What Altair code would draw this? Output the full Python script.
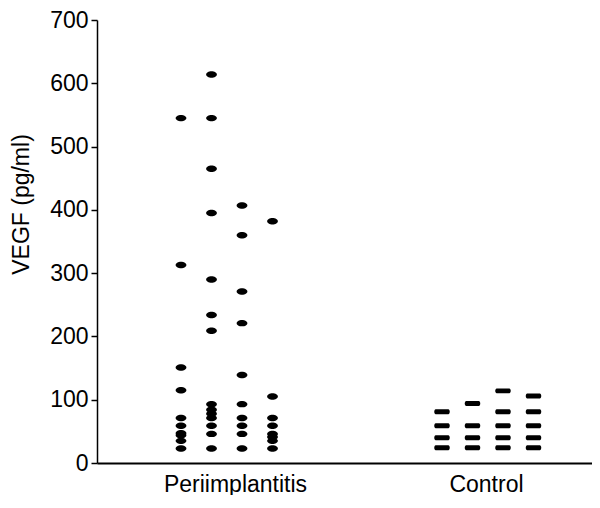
import altair as alt
import pandas as pd

# ---- data ----
groups = ["Periimplantitis", "Control"]

# VEGF values (pg/ml), one list per scatter column
peri_columns = [
    [545, 313, 151, 115, 71, 59, 47, 44, 35, 23],
    [614, 545, 465, 395, 290, 234, 209, 93, 84, 78, 71, 59, 46, 23],
    [407, 360, 271, 221, 139, 93, 71, 59, 46, 23],
    [382, 105, 71, 59, 46, 41, 35, 23],
]
control_columns = [
    [81, 59, 40, 24],
    [94, 59, 40, 24],
    [114, 81, 59, 40, 24],
    [106, 81, 59, 40, 24],
]
y_ticks = [0, 100, 200, 300, 400, 500, 600, 700]

rows = []
for gi, cols in enumerate([peri_columns, control_columns]):
    for ci, col in enumerate(cols):
        for v in col:
            rows.append({"group": groups[gi], "gi": gi, "col": ci, "vegf": v})
df = pd.DataFrame(rows)

FONT = "Liberation Sans"
ellipse = "M-1,0 A1,0.6 0 1,1 1,0 A1,0.6 0 1,1 -1,0 Z"
dash = ("M-0.82,-0.32 L0.82,-0.32 A0.18,0.32 0 0,1 0.82,0.32 "
        "L-0.82,0.32 A0.18,0.32 0 0,1 -0.82,-0.32 Z")

chart = (
    alt.Chart(df)
    .transform_calculate(xpos="(datum.gi == 0 ? 84 : 345) + datum.col * 30.5")
    .mark_point(filled=True, opacity=1, strokeWidth=0)
    .encode(
        x=alt.X(
            "xpos:Q",
            scale=alt.Scale(domain=[0, 495], nice=False, zero=False),
            axis=alt.Axis(
                values=[138, 389],
                labelExpr="datum.value < 250 ? 'Periimplantitis' : 'Control'",
                ticks=False,
                grid=False,
                title=None,
                domainColor="black",
                domainWidth=2,
                labelFont=FONT,
                labelFontSize=23,
                labelColor="black",
                labelPadding=10,
            ),
        ),
        y=alt.Y(
            "vegf:Q",
            scale=alt.Scale(domain=[0, 700], nice=False),
            axis=alt.Axis(
                values=y_ticks,
                grid=False,
                title="VEGF (pg/ml)",
                titleFont=FONT,
                titleFontSize=23,
                titleFontWeight="normal",
                titleColor="black",
                titleX=-76,
                titleY=184,
                titleBaseline="middle",
                domainColor="black",
                domainWidth=1.5,
                tickColor="black",
                tickWidth=1.5,
                tickSize=6,
                labelFont=FONT,
                labelFontSize=23,
                labelColor="black",
                labelPadding=3,
            ),
        ),
        shape=alt.Shape("group:N", scale=alt.Scale(domain=groups, range=[ellipse, dash]), legend=None),
        size=alt.Size("group:N", scale=alt.Scale(domain=groups, range=[115, 240]), legend=None),
        color=alt.value("black"),
    )
    .properties(
        width=495,
        height=443,
        autosize=alt.AutoSizeParams(type="none"),
        padding={"left": 89, "top": 12, "right": 0, "bottom": 32},
        background="white",
    )
    .configure_view(stroke=None)
)

chart.save("out.html", embed_options={"renderer": "svg", "actions": False})
